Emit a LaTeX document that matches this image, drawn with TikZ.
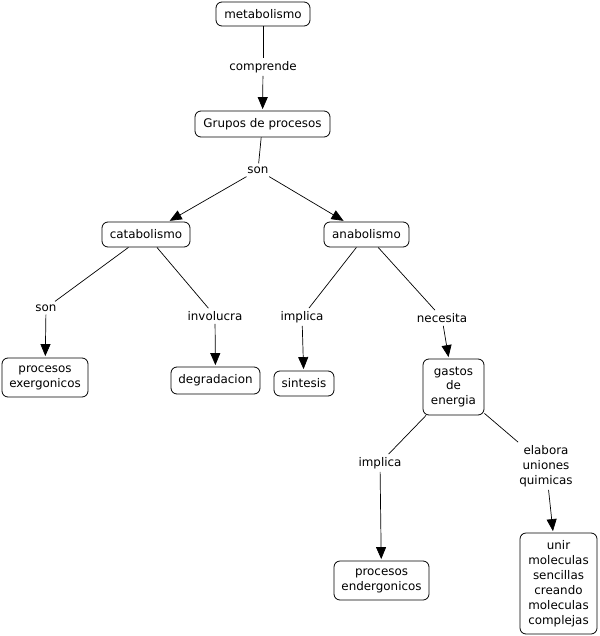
\documentclass[tikz,border=0pt]{standalone}
\usepackage{fontspec}
\setmainfont{DejaVu Sans}
\usetikzlibrary{arrows.meta}
\begin{document}
\begin{tikzpicture}[x=1pt,y=-1pt,
  every node/.style={font=\fontsize{11.9}{14.9}\selectfont, align=center},
  concept/.style={draw, rounded corners=6pt, line width=0.8pt, inner sep=0pt},
  linking/.style={inner sep=3pt},
  conn/.style={line width=0.7pt},
  arr/.style={line width=0.7pt, -{Triangle[length=12pt,width=10pt]}, shorten >=1.5pt}]
\useasboundingbox (0,0) rectangle (599,636);
% concepts
\node[concept, minimum width=94pt, minimum height=24pt] (meta) at (263,14) {metabolismo};
\node[concept, minimum width=135pt, minimum height=26pt] (grupos) at (262.5,124) {Grupos de procesos};
\node[concept, minimum width=88pt, minimum height=25pt] (cat) at (146,234.5) {catabolismo};
\node[concept, minimum width=85pt, minimum height=25pt] (ana) at (366.5,234.5) {anabolismo};
\node[concept, minimum width=86pt, minimum height=39pt] (exer) at (45,377.5) {procesos\\exergonicos};
\node[concept, minimum width=89pt, minimum height=27pt] (degr) at (215.5,380.5) {degradacion};
\node[concept, minimum width=60pt, minimum height=25pt] (sint) at (304,383.5) {sintesis};
\node[concept, minimum width=61pt, minimum height=56pt] (gastos) at (453.5,387) {gastos\\de\\energia};
\node[concept, minimum width=95pt, minimum height=39pt] (ender) at (381.5,580.5) {procesos\\endergonicos};
\node[concept, minimum width=77pt, minimum height=101pt] (unir) at (558.5,583.5) {unir\\moleculas\\sencillas\\creando\\moleculas\\complejas};
% linking phrases
\node[linking] (comp) at (263,67) {comprende};
\node[linking] (son) at (258,170) {son};
\node[linking] (son2) at (46,308) {son};
\node[linking] (invo) at (215,316) {involucra};
\node[linking] (impl1) at (302,317) {implica};
\node[linking] (nece) at (442,318) {necesita};
\node[linking] (impl2) at (380,463) {implica};
\node[linking] (elab) at (546,466) {elabora\\uniones\\quimicas};
% connectors
\draw[conn] (meta) -- (comp);
\draw[arr] (comp) -- (grupos);
\draw[conn] (grupos) -- (son);
\draw[arr] (son) -- (cat);
\draw[arr] (son) -- (ana);
\draw[conn] (cat) -- (son2);
\draw[arr] (son2) -- (exer);
\draw[conn] (cat) -- (invo);
\draw[arr] (invo) -- (degr);
\draw[conn] (ana) -- (impl1);
\draw[arr] (impl1) -- (sint);
\draw[conn] (ana) -- (nece);
\draw[arr] (nece) -- (gastos);
\draw[conn] (gastos) -- (impl2);
\draw[arr] (impl2) -- (ender);
\draw[conn] (gastos) -- (elab);
\draw[arr] (elab) -- (unir);
\end{tikzpicture}
\end{document}
